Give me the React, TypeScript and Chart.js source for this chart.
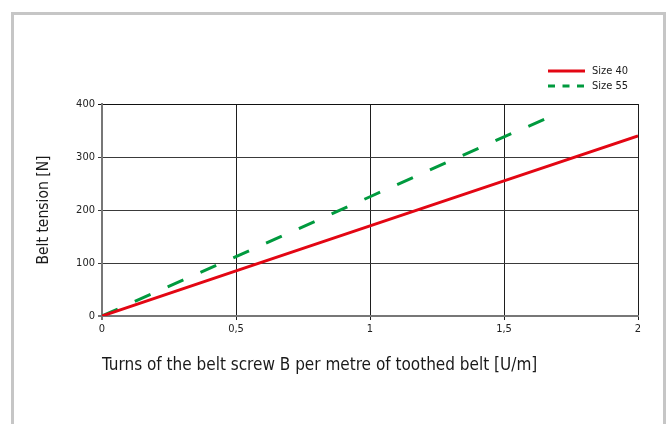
import React, { useEffect, useRef } from 'react';
import { Chart, registerables } from 'chart.js';

Chart.register(...registerables);

const FONT = "'Liberation Sans Narrow', 'DejaVu Sans Condensed', 'Liberation Sans', Arial, sans-serif";

// Data
const size40X = [0, 0.5, 1, 1.5, 2];
const size40Y = [0, 85, 170, 255, 340];
const size55X = [0, 0.5, 1, 1.5, 1.65];
const size55Y = [0, 112, 225, 338, 371];
const seriesNames = ['Size 40', 'Size 55'];
const seriesColors = ['#e30613', '#009a3e'];
const xTickValues = [0, 0.5, 1, 1.5, 2];
const xTickLabels = ['0', '0,5', '1', '1,5', '2'];
const yTickValues = [0, 100, 200, 300, 400];
const yTickLabels = ['0', '100', '200', '300', '400'];
const xTitle = 'Turns of the belt screw B per metre of toothed belt [U/m]';
const yTitle = 'Belt tension [N]';

const legendPlugin = {
  id: 'cornerLegend',
  afterDraw(chart: any) {
    const { ctx, chartArea } = chart;
    const x0 = chartArea.right - 90;
    const y0 = chartArea.top - 33;
    ctx.save();
    chart.data.datasets.forEach((ds: any, i: number) => {
      const y = y0 + i * 15;
      ctx.strokeStyle = ds.borderColor;
      ctx.lineWidth = 3;
      ctx.setLineDash(i === 1 ? [7, 7.5] : []);
      ctx.beginPath();
      ctx.moveTo(x0, y);
      ctx.lineTo(x0 + 37, y);
      ctx.stroke();
      ctx.setLineDash([]);
      ctx.fillStyle = '#1a1a1a';
      ctx.font = `11px ${FONT}`;
      ctx.textBaseline = 'middle';
      ctx.textAlign = 'left';
      ctx.fillText(ds.label, x0 + 44, y);
    });
    ctx.restore();
  },
};

export default function App() {
  const ref = useRef<HTMLCanvasElement>(null);

  useEffect(() => {
    if (!ref.current) return;
    const chart = new Chart(ref.current, {
      type: 'line',
      data: {
        datasets: [
          {
            label: seriesNames[0],
            data: size40X.map((x, i) => ({ x, y: size40Y[i] })),
            borderColor: seriesColors[0],
            borderWidth: 3,
            pointRadius: 0,
            tension: 0,
            fill: false,
          },
          {
            label: seriesNames[1],
            data: size55X.map((x, i) => ({ x, y: size55Y[i] })),
            borderColor: seriesColors[1],
            borderWidth: 3,
            borderDash: [17.2, 18.7],
            pointRadius: 0,
            tension: 0,
            fill: false,
          },
        ],
      },
      options: {
        animation: false,
        responsive: true,
        maintainAspectRatio: false,
        layout: { padding: { left: 0, right: 31, top: 104, bottom: 0 } },
        plugins: { legend: { display: false }, tooltip: { enabled: false } },
        scales: {
          x: {
            type: 'linear',
            min: 0,
            max: 2,
            afterBuildTicks: (s: any) => {
              s.ticks = xTickValues.map((v) => ({ value: v }));
            },
            afterFit: (s: any) => {
              s.height = 108;
            },
            ticks: {
              autoSkip: false,
              maxRotation: 0,
              padding: 3,
              color: '#222',
              font: { family: FONT, size: 11 },
              callback: (_v: any, i: number) => xTickLabels[i],
            },
            grid: {
              color: (c: any) => (c.index === 0 ? '#777' : '#1e1e1e'),
              lineWidth: (c: any) => (c.index === 0 ? 2 : 1),
              tickLength: 4,
            },
            border: { color: '#777', width: 2 },
            title: {
              display: true,
              text: xTitle,
              align: 'start',
              color: '#1a1a1a',
              font: { family: FONT, size: 17 },
              padding: { top: 0, bottom: 47.8 },
            },
          },
          y: {
            type: 'linear',
            min: 0,
            max: 400,
            afterBuildTicks: (s: any) => {
              s.ticks = yTickValues.map((v) => ({ value: v }));
            },
            afterFit: (s: any) => {
              s.width = 102;
            },
            ticks: {
              padding: 3,
              color: '#222',
              font: { family: FONT, size: 11 },
              callback: (_v: any, i: number) => yTickLabels[i],
            },
            grid: {
              color: (c: any) => (c.index === 0 ? '#777' : c.index === 4 ? '#111' : '#3a3a3a'),
              lineWidth: (c: any) => (c.index === 0 ? 2 : 1),
              tickLength: 4,
            },
            border: { color: '#777', width: 2 },
            title: {
              display: true,
              text: yTitle,
              color: '#1a1a1a',
              font: { family: FONT, size: 15.5 },
              padding: { top: 34.7, bottom: 0 },
            },
          },
        },
      },
      plugins: [legendPlugin],
    });
    return () => chart.destroy();
  }, []);

  return (
    <>
      <div
        style={{
          position: 'fixed',
          left: 11,
          top: 12,
          width: 655,
          height: 440,
          border: '3px solid #c6c6c6',
          boxSizing: 'border-box',
        }}
      />
      <div style={{ position: 'fixed', left: 0, top: 0, width: 669, height: 424 }}>
        <canvas ref={ref} />
      </div>
    </>
  );
}
